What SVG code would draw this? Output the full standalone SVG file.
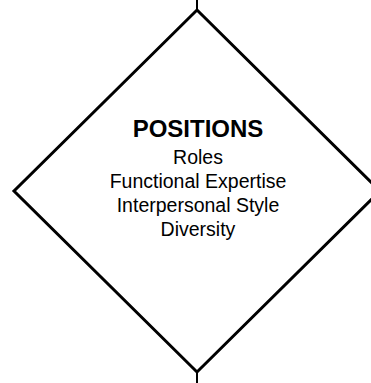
<svg xmlns="http://www.w3.org/2000/svg" width="371" height="383" viewBox="0 0 371 383">
<style>
.edge{stroke:#000;stroke-width:2;fill:none}
.shape{stroke:#000;stroke-width:3;fill:#fff;stroke-linejoin:miter}
.t{font-family:"Liberation Sans",Arial,sans-serif;fill:#000;text-anchor:middle}
.b{font-weight:bold;font-size:24px}
.r{font-size:19.5px}
</style>
<rect width="371" height="383" fill="#fff"/>
<g id="connectors">
<line class="edge" x1="197" y1="0" x2="197" y2="10"/>
<line class="edge" x1="197" y1="372" x2="197" y2="383"/>
</g>
<g id="positions">
<polygon class="shape" points="197,10 380,191 197,372 14,191"/>
<text class="t b" x="198" y="137">POSITIONS</text>
<text class="t r" x="198" y="164">Roles</text>
<text class="t r" x="198" y="188">Functional Expertise</text>
<text class="t r" x="198" y="212">Interpersonal Style</text>
<text class="t r" x="198" y="236">Diversity</text>
</g>
</svg>
